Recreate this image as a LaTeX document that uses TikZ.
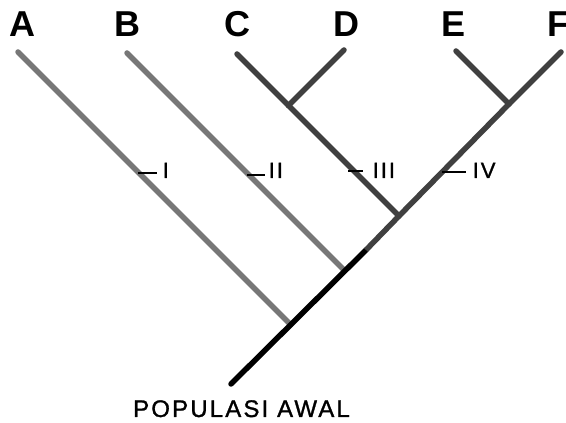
\documentclass[tikz,border=0pt]{standalone}
\usepackage{fontspec}
\setmainfont{Liberation Sans}
\newfontfamily\spacedfont[LetterSpace=9,FakeBold=1.2]{Liberation Sans}
\usepackage{tikz}
\definecolor{lightbranch}{HTML}{777777}
\definecolor{darkbranch}{HTML}{404040}

\begin{document}
\begin{tikzpicture}
	[x=1pt,y=1pt,line width=5.5pt,line cap=round,
	leaf/.style={anchor=base,inner sep=0pt,font=\fontsize{36}{36}\selectfont\bfseries},
	lbl/.style={anchor=base west,inner sep=0pt,font=\fontsize{22}{22}\spacedfont},
	lead/.style={line width=1.8pt,line cap=butt}]
	\useasboundingbox (0,0) rectangle (566,423);
	\node[leaf] (A) at (22.5,386) {A};
	\node[leaf] (B) at (127.5,386) {B};
	\node[leaf] (C) at (237.5,386) {C};
	\node[leaf] (D) at (346,386) {D};
	\node[leaf] (E) at (454,386) {E};
	\node[leaf] (F) at (558,386) {F};
	
	\coordinate (a) at (18,371);
	\coordinate (b) at (127,370);
	\coordinate (c) at (237,369);
	\coordinate (d) at (344,373);
	\coordinate (e) at (456,372);
	\coordinate (f) at (561,371);
	
	\coordinate (cd) at (288.5,317.5);
	\coordinate (ef) at (509,319);
	\coordinate (jc) at (399,207);
	\coordinate (jb) at (344.5,152.5);
	\coordinate (ja) at (290.5,98.5);
	\coordinate (bk) at (366,173);
	\coordinate (root) at (231,39);
	
	\foreach \from/\to in {a/ja,b/jb}
	\draw[lightbranch] (\from) -- (\to);
	\foreach \from/\to in {c/cd,d/cd,cd/jc,e/ef,f/ef,ef/jc}
	\draw[darkbranch] (\from) -- (\to);
	\draw (root) -- (bk);
	\draw[darkbranch,line cap=butt] (bk) -- (jc);
	
	\foreach \n/\x/\y/\len/\tx/\lx in {1/138/250/19/I/160, 2/247/248/18/II/266, 3/348/252/15/III/370, 4/442/251/24/IV/470}
	{
	\node[lbl] (l\n) at (\lx,245) {\tx};
	\coordinate (t\n) at (\x,\y);
	\draw[lead] (t\n) -- ++(\len,0);
	}
	
	\node[anchor=base,inner sep=0pt,font=\fontsize{24}{24}\spacedfont] (pop) at (241.5,6) {POPULASI AWAL};
\end{tikzpicture}
\end{document}
